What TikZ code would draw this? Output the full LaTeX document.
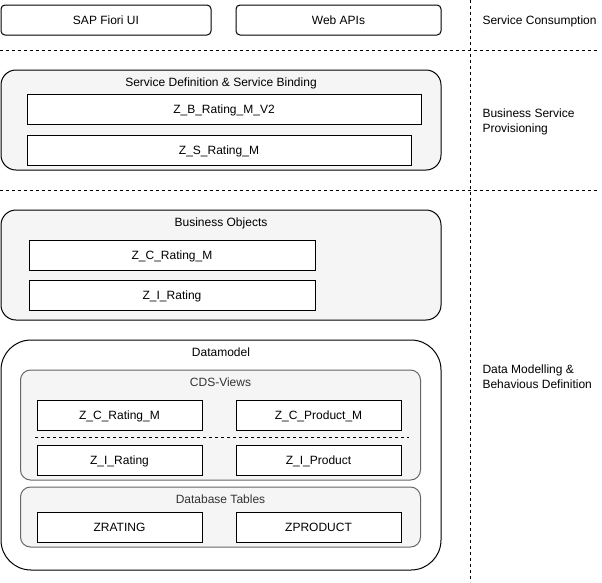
\documentclass[tikz,border=0pt]{standalone}
\usepackage{fontspec}
\setmainfont{Liberation Sans}
\definecolor{groupfill}{HTML}{F5F5F5}
\definecolor{subline}{HTML}{666666}
\definecolor{subtext}{HTML}{333333}
\begin{document}
\begin{tikzpicture}[x=1pt, y=-1pt, line width=1pt,
    font=\fontsize{12}{15}\selectfont,
    captext/.style={text height=8.6pt, text depth=0pt},
    box/.style={draw, rectangle, captext, minimum height=30pt, inner sep=0pt, fill=white},
    group/.style={draw, rectangle, inner sep=0pt, fill=groupfill},
    subgroup/.style={group, draw=subline, text=subtext, rounded corners=10pt},
    sepline/.style={dash pattern=on 3pt off 3pt, line width=0.8pt}]
      \useasboundingbox (0,0) rectangle (602,582);
      % layer separators
      \coordinate (h1l) at (0,50);    \coordinate (h1r) at (597,50);
      \coordinate (h2l) at (0,190);   \coordinate (h2r) at (597,190);
      \coordinate (vt) at (470.5,0);  \coordinate (vb) at (470.5,582);
      \draw[sepline] (h1l) -- (h1r);
      \draw[sepline] (h2l) -- (h2r);
      \draw[sepline] (vt) -- (vb);
      % service consumption
      \node[box, rounded corners=4pt, minimum width=210pt] (fiori) at (106,20) {SAP Fiori UI};
      \node[box, rounded corners=4pt, minimum width=205pt] (webapi) at (338.5,20) {Web APIs};
      % service definition & binding
      \node[group, rounded corners=15pt, minimum width=440pt, minimum height=100pt] (svc) at (221,120) {};
      \node[captext] (svclbl) at ([yshift=-13pt]svc.north) {Service Definition \& Service Binding};
      \node[box, minimum width=394pt] (zb) at (224,109) {Z\_B\_Rating\_M\_V2};
      \node[box, minimum width=384pt] (zs) at (219,150) {Z\_S\_Rating\_M};
      % business objects
      \node[group, rounded corners=15pt, minimum width=440pt, minimum height=110pt] (bo) at (221,265) {};
      \node[captext] (bolbl) at ([yshift=-13pt]bo.north) {Business Objects};
      \node[box, minimum width=286pt] (bozc) at (172,255) {Z\_C\_Rating\_M};
      \node[box, minimum width=286pt] (bozi) at (172,295) {Z\_I\_Rating};
      % datamodel
      \node[group, fill=white, rounded corners=30pt, minimum width=440pt, minimum height=230pt] (dm) at (221,455) {};
      \node[captext] (dmlbl) at ([yshift=-13pt]dm.north) {Datamodel};
      \node[subgroup, minimum width=400pt, minimum height=110pt] (cds) at (220.5,425) {};
      \node[captext, text=subtext] (cdslbl) at ([yshift=-13pt]cds.north) {CDS-Views};
      \node[box, minimum width=165pt] (zcr) at (119.5,415) {Z\_C\_Rating\_M};
      \node[box, minimum width=165pt] (zcp) at (318.5,415) {Z\_C\_Product\_M};
      \coordinate (cdsl) at (35,437);  \coordinate (cdsr) at (409,437);
      \draw[sepline] (cdsl) -- (cdsr);
      \node[box, minimum width=165pt] (zir) at (119.5,460) {Z\_I\_Rating};
      \node[box, minimum width=165pt] (zip) at (318.5,460) {Z\_I\_Product};
      \node[subgroup, minimum width=400pt, minimum height=60pt] (dbt) at (220.5,517) {};
      \node[captext, text=subtext] (dbtlbl) at ([yshift=-13pt]dbt.north) {Database Tables};
      \node[box, minimum width=165pt] (zrating) at (119.5,527) {ZRATING};
      \node[box, minimum width=165pt] (zproduct) at (318.5,527) {ZPRODUCT};
      % layer names
      \node[anchor=west, inner sep=0pt, captext] (lsc) at (482,20) {Service Consumption};
      \node[anchor=west, inner sep=0pt, align=left] (lbsp) at ([yshift=-1.5pt]482,120.5) {Business Service\\Provisioning};
      \node[anchor=west, inner sep=0pt, align=left] (ldm) at ([yshift=-1.5pt]482,375.5) {Data Modelling \&\\Behavious Definition};
  \end{tikzpicture}
\end{document}
